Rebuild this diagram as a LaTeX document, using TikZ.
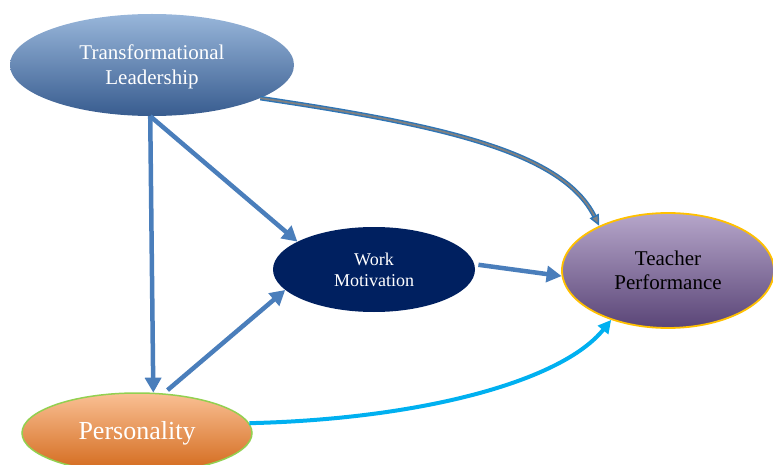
\documentclass[tikz,border=0pt]{standalone}
\usepackage{fontspec}
\setmainfont{Liberation Serif}
\usetikzlibrary{shapes.geometric,arrows.meta}
\definecolor{tltop}{HTML}{98B6DA}
\definecolor{tlmid}{HTML}{5685C0}
\definecolor{tlbot}{HTML}{385C8F}
\definecolor{perstop}{HTML}{FAC094}
\definecolor{persmid}{HTML}{F39A52}
\definecolor{persbot}{HTML}{D2681A}
\definecolor{perline}{HTML}{92D050}
\definecolor{tptop}{HTML}{B6A6CA}
\definecolor{tpmid}{HTML}{8468A6}
\definecolor{tpbot}{HTML}{5A4577}
\definecolor{tpline}{HTML}{FFC000}
\definecolor{wmfill}{HTML}{002060}
\definecolor{linkblue}{HTML}{4A7EBB}
\definecolor{linkdark}{HTML}{2E75B6}
\definecolor{linkcyan}{HTML}{00B0F0}
\begin{document}
\begin{tikzpicture}[x=1pt,y=-1pt,
    var/.style={ellipse,inner sep=0pt,align=center},
    link/.style={draw=linkblue,line width=4.5pt,-{Triangle[length=15pt,width=16pt]}}]
    \useasboundingbox (0,0) rectangle (773,465);

    \node[var,minimum width=284pt,minimum height=102pt,top color=tltop,middle color=tlmid,bottom color=tlbot,
        text=white,text depth=0pt,font=\fontsize{21}{25}\selectfont] (tl) at (152,65) {Transformational\\Leadership};
    \node[var,minimum width=202pt,minimum height=85pt,fill=wmfill,
        text=white,font=\fontsize{18}{21}\selectfont] (wm) at (374,269.5) {Work\\Motivation};
    \node[var,minimum width=212pt,minimum height=115pt,draw=tpline,line width=1.8pt,
        top color=tptop,middle color=tpmid,bottom color=tpbot,
        font=\fontsize{21}{24}\selectfont] (tp) at (668,270.5) {Teacher\\Performance};
    \node[var,minimum width=230pt,minimum height=80pt,draw=perline,line width=1.5pt,
        top color=perstop,middle color=persmid,bottom color=persbot,
        text=white,font=\fontsize{26}{30}\selectfont] (pers) at (137,433) {Personality};

    \draw[link] (tl.-92) -- (pers.68);
    \draw[link] (tl.-92) -- (wm.160);
    \draw[link,shorten <=5pt] (pers.56) -- (wm.193);
    \draw[link,shorten <=4pt] (wm.3) -- (tp.183);
    \draw[draw=linkdark,line width=1.4pt,double=gray,double distance=1.8pt,
        -{Triangle[length=11pt,width=10pt,fill=gray]}]
        (tl.-17) .. controls +(182,27) and +(-37,-74) .. (tp.147);
    \draw[draw=linkcyan,line width=4pt,-{Triangle[length=13pt,width=13pt]}]
        (pers.5) .. controls +(170,-4) and +(-50,62) .. (tp.221);
\end{tikzpicture}
\end{document}
